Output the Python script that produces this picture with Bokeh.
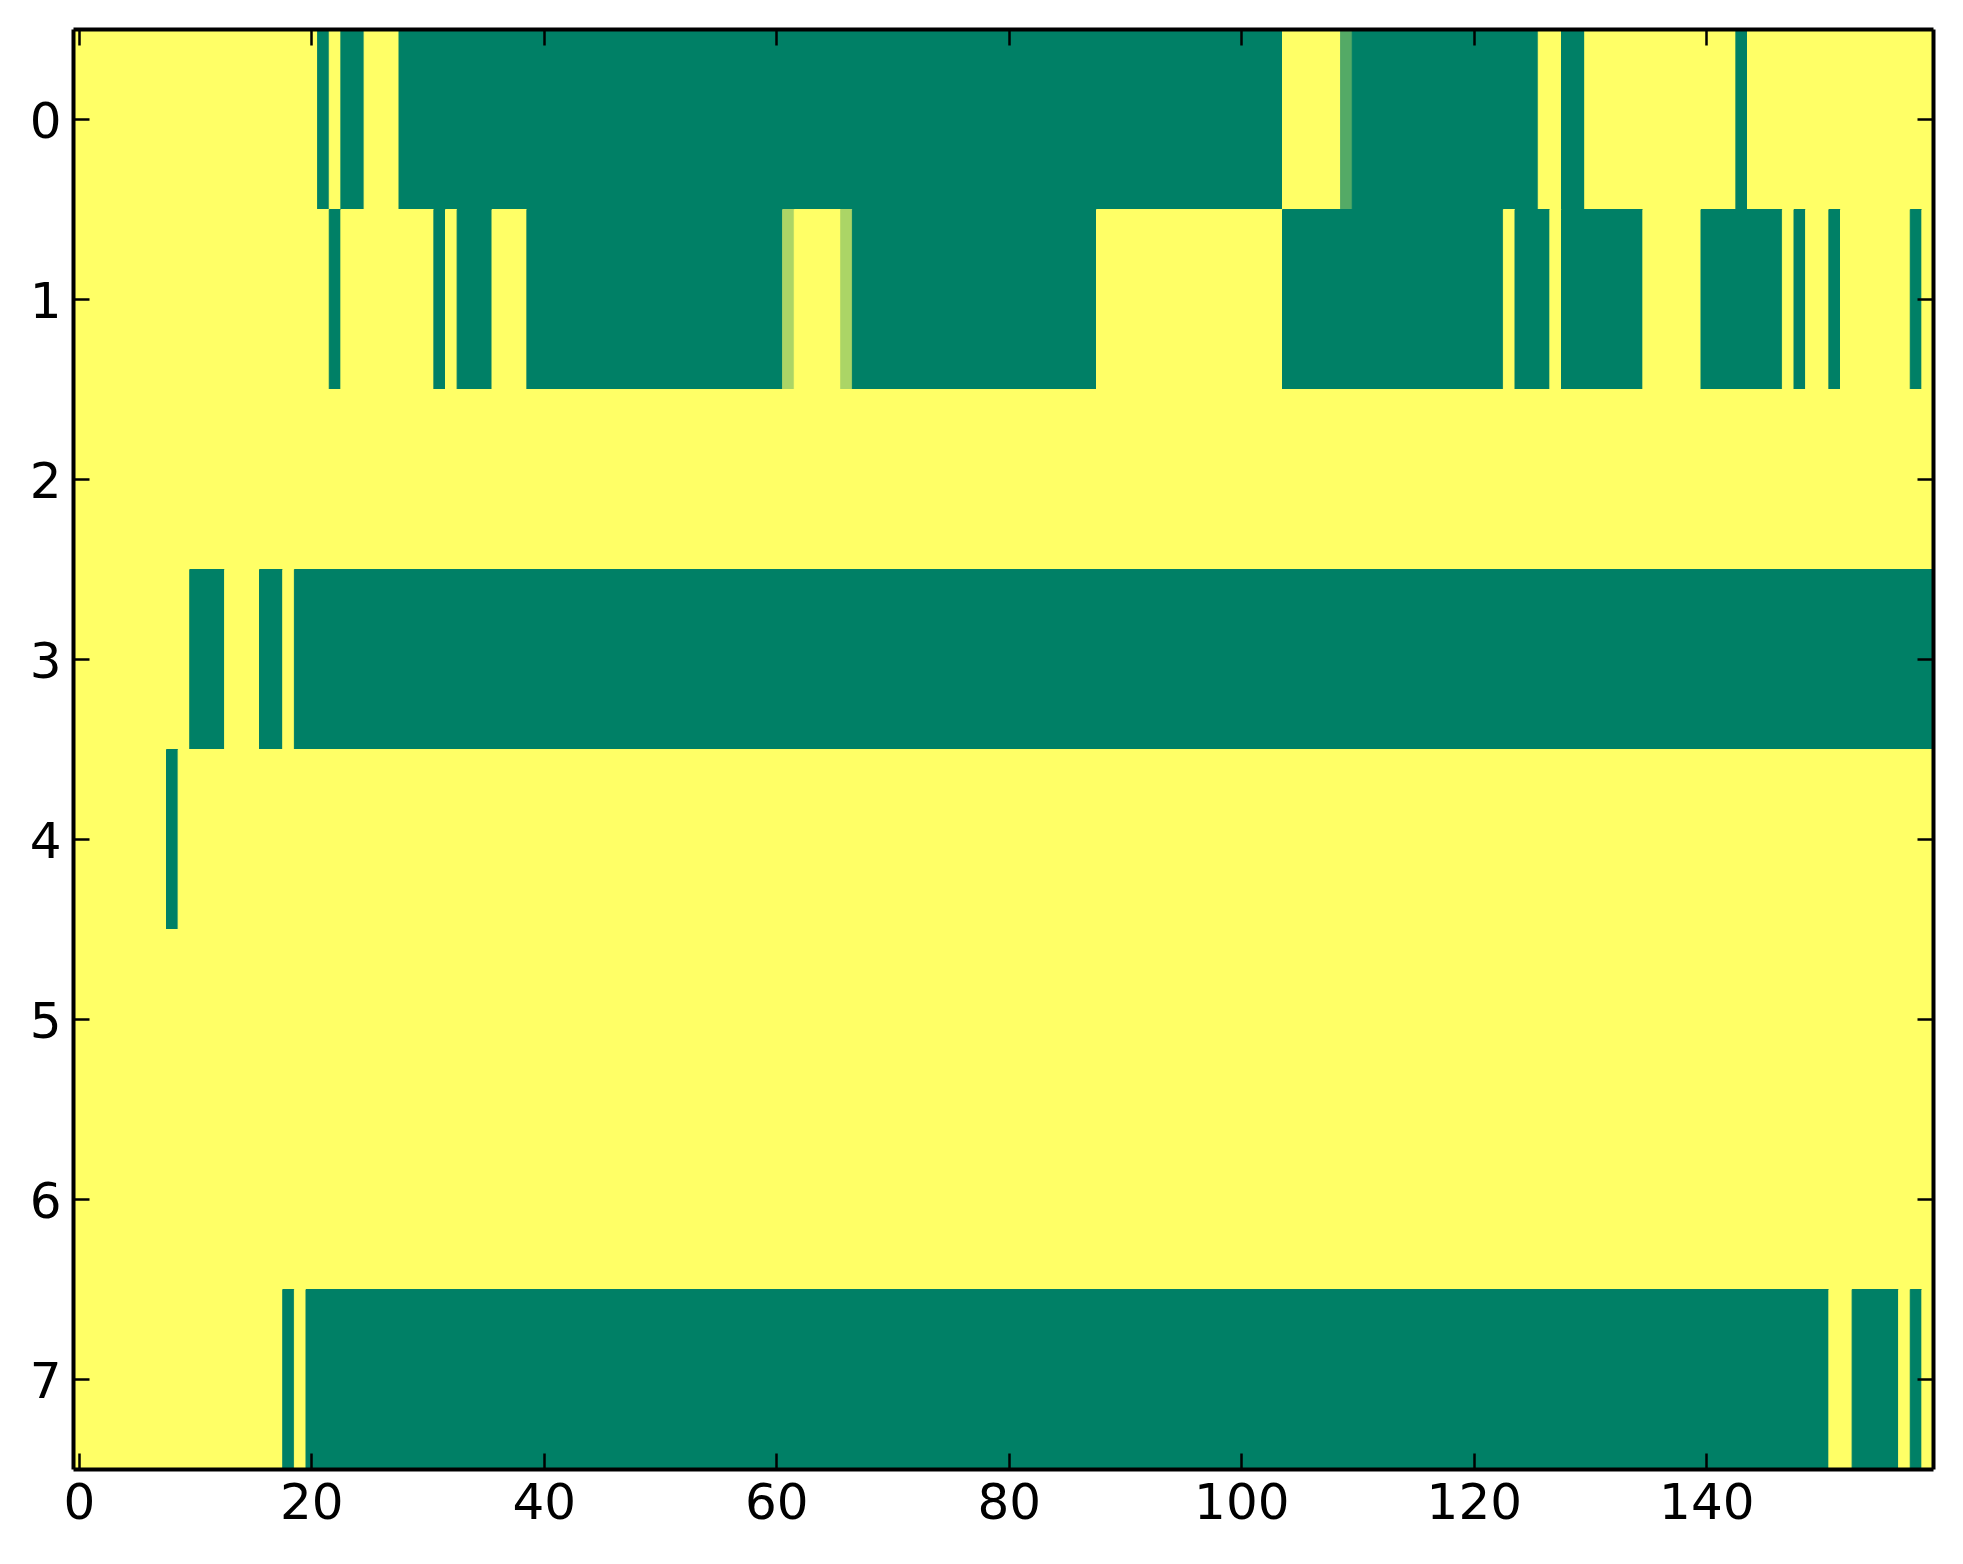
import numpy as np
from bokeh.plotting import figure
from bokeh.models import Range1d, FixedTicker, LinearAxis, ColumnDataSource, LinearColorMapper, CustomJSTickFormatter
from bokeh.transform import transform
from bokeh.embed import file_html
from bokeh.resources import INLINE

N_COLS = 160
y_ticks = [0, 1, 2, 3, 4, 5, 6, 7]
x_ticks = [0, 20, 40, 60, 80, 100, 120, 140]

# Each row as run-length pairs: (cell value, number of consecutive columns)
row0 = [(1, 21), (0, 1), (1, 1), (0, 2), (1, 3), (0, 76), (1, 5), (0.33, 1),
        (0, 16), (1, 2), (0, 2), (1, 13), (0, 1), (1, 16)]
row1 = [(1, 22), (0, 1), (1, 8), (0, 1), (1, 1), (0, 3), (1, 3), (0, 22),
        (0.67, 1), (1, 4), (0.67, 1), (0, 21), (1, 16), (0, 19), (1, 1), (0, 3),
        (1, 1), (0, 7), (1, 5), (0, 7), (1, 1), (0, 1), (1, 2), (0, 1), (1, 6),
        (0, 1), (1, 1)]
row2 = [(1, 160)]
row3 = [(1, 10), (0, 3), (1, 3), (0, 2), (1, 1), (0, 141)]
row4 = [(1, 8), (0, 1), (1, 151)]
row5 = [(1, 160)]
row6 = [(1, 160)]
row7 = [(1, 18), (0, 1), (1, 1), (0, 131), (1, 2), (0, 4), (1, 1), (0, 1), (1, 1)]
rows = [row0, row1, row2, row3, row4, row5, row6, row7]

# matplotlib "summer" colormap
summer = ["#%02x%02x%02x" % (int(round(255 * v)), int(round(255 * (0.5 + 0.5 * v))), 102)
          for v in np.linspace(0, 1, 256)]
mapper = LinearColorMapper(palette=summer, low=0, high=1)

left, right, top, bottom, val = [], [], [], [], []
for r, runs in enumerate(rows):
    c = 0
    for v, n in runs:
        left.append(c - 0.5)
        right.append(c + n - 0.5)
        top.append(r - 0.5)
        bottom.append(r + 0.5)
        val.append(v)
        c += n
src = ColumnDataSource(dict(left=left, right=right, top=top, bottom=bottom, v=val))

p = figure(frame_width=1860, frame_height=1440, output_backend="svg", toolbar_location=None,
           x_range=Range1d(-0.5, N_COLS - 0.5), y_range=Range1d(7.5, -0.5),
           min_border_left=73, min_border_top=29, min_border_right=15, min_border_bottom=75,
           x_axis_location=None, y_axis_location=None)
p.grid.visible = False
p.background_fill_color = "white"
p.outline_line_color = None

p.quad(left="left", right="right", top="top", bottom="bottom", source=src,
       fill_color=transform("v", mapper), line_color=transform("v", mapper), line_width=1)

FONT = "DejaVu Sans"
def mk_axis(ticks, show_labels, standoff):
    ax = LinearAxis(ticker=FixedTicker(ticks=ticks))
    ax.axis_line_color = "black"
    ax.axis_line_width = 4
    ax.major_tick_in = 16
    ax.major_tick_out = 0
    ax.major_tick_line_width = 2.5
    ax.major_tick_line_color = "black"
    ax.minor_tick_line_color = None
    ax.major_label_text_font = FONT
    ax.major_label_text_color = "black"
    ax.major_label_text_font_size = "50px"
    ax.major_label_standoff = standoff
    if not show_labels:
        ax.formatter = CustomJSTickFormatter(code="return ''")
        ax.major_label_standoff = 0
    return ax

p.add_layout(mk_axis(x_ticks, True, 13), "below")
p.add_layout(mk_axis(y_ticks, True, 12), "left")
p.add_layout(mk_axis(x_ticks, False, 0), "above")
p.add_layout(mk_axis(y_ticks, False, 0), "right")

open("out.html", "w").write(file_html(p, INLINE))
